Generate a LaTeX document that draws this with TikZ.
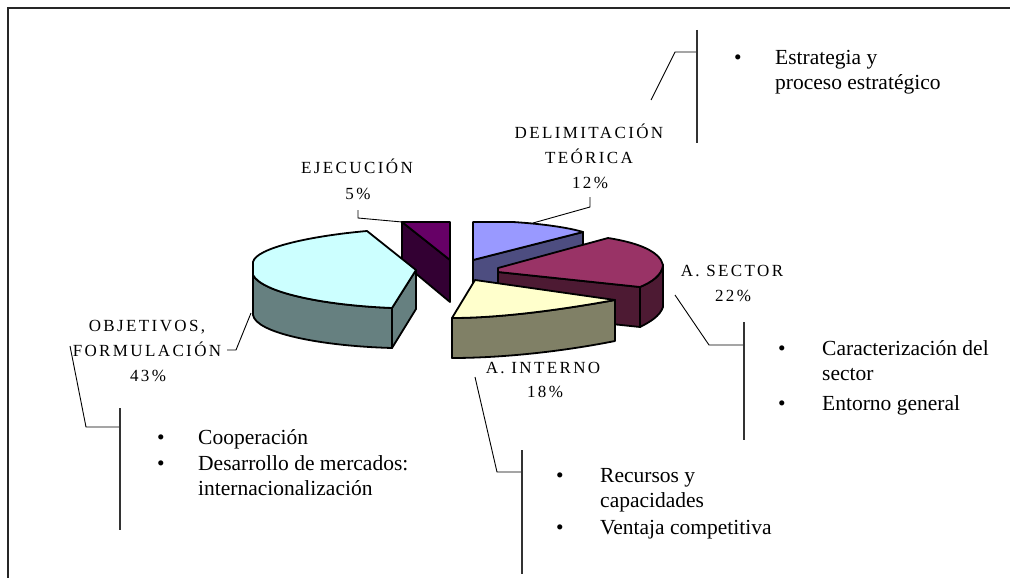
\documentclass[tikz,border=0pt]{standalone}
\usepackage{fontspec}
\setmainfont{Liberation Serif}
\newfontfamily\lblfont[LetterSpace=14]{Liberation Serif}
\definecolor{cyanTop}{HTML}{CCFFFF}
\definecolor{slate}{HTML}{668080}
\definecolor{ejeTop}{HTML}{660066}
\definecolor{ejeSide}{HTML}{330033}
\definecolor{delTop}{HTML}{9999FF}
\definecolor{delSide}{HTML}{4D4D80}
\definecolor{secTop}{HTML}{993366}
\definecolor{secSide}{HTML}{4D1A33}
\definecolor{intTop}{HTML}{FFFFCC}
\definecolor{intSide}{HTML}{808066}
\begin{document}
\begin{tikzpicture}[x=1pt,y=-1pt,
  lbl/.style={font=\lblfont\fontsize{17}{20}\selectfont, inner sep=0pt, anchor=base},
  txt/.style={font=\fontsize{21.5}{25}\selectfont, inner sep=0pt, anchor=base west},
  bul/.style={font=\fontsize{21.5}{25}\selectfont, inner sep=0pt, anchor=base},
  face/.style={draw=black, line width=1.8pt, line join=round},
  leader/.style={draw=black, line width=0.9pt},
  brk/.style={draw=black!80, line width=1.3pt}]
\useasboundingbox (0,0) rectangle (1010,578);
% frame
\draw[line width=1.6pt, black!85] (8,578) -- (8,8) -- (1010,8);

% --- EJECUCION slice
\draw[face, fill=ejeSide] (402,222) -- (450,260) -- (450,302) -- (402,262) -- cycle;
\draw[face, fill=ejeTop] (402,222) -- (450,222) -- (450,260) -- cycle;

% --- OBJETIVOS slice
\draw[face, fill=slate] (253,275) -- (253,315) .. controls (256,333) and (320,346) .. (392,348) -- (392,308) .. controls (320,305) and (262,292) .. (253,275) -- cycle;
\draw[face, fill=slate] (392,308) -- (416,270) -- (416,309) -- (392,348) -- cycle;
\draw[face, fill=cyanTop] (416,270) -- (367,231) .. controls (310,236) and (256,248) .. (253,262) -- (253,275) .. controls (262,292) and (320,305) .. (392,308) -- cycle;

% --- DELIMITACION slice
\draw[face, fill=delSide] (473,260) -- (583,232) -- (583,272) -- (473,300) -- cycle;
\draw[face, fill=delTop] (473,260) -- (473,222) -- (513,222) .. controls (545,224) and (570,228) .. (583,232) -- cycle;

% --- SECTOR slice
\draw[face, fill=secSide] (498,272) -- (640,287) -- (640,327) -- (498,312) -- cycle;
\draw[face, fill=secSide] (640,287) .. controls (652,282) and (662,275) .. (663,265) -- (663,307) .. controls (660,316) and (650,322) .. (640,327) -- cycle;
\draw[face, fill=secTop] (498,268) -- (608,238) .. controls (640,243) and (660,252) .. (663,265) .. controls (662,275) and (652,282) .. (640,287) -- (498,272) -- cycle;

% --- INTERNO slice
\draw[face, fill=intSide] (452,318) .. controls (500,318) and (560,310) .. (615,300) -- (615,341) .. controls (560,352) and (500,358) .. (452,358) -- cycle;
\draw[face, fill=intTop] (475,280) -- (615,300) .. controls (560,310) and (500,318) .. (452,318) -- cycle;

% --- labels
\node[lbl] (del1) at (589,139) {DELIMITACIÓN};
\node[lbl] (del2) at (589,163) {TEÓRICA};
\node[lbl] (del3) at (590,188) {12\%};
\node[lbl] (eje1) at (357,173) {EJECUCIÓN};
\node[lbl] (eje2) at (358,199) {5\%};
\node[lbl] (sec1) at (732,276) {A. SECTOR};
\node[lbl] (sec2) at (733,301) {22\%};
\node[lbl] (int1) at (543,373) {A. INTERNO};
\node[lbl] (int2) at (545,397) {18\%};
\node[lbl] (obj1) at (147,331) {OBJETIVOS,};
\node[lbl] (obj2) at (147,356) {FORMULACIÓN};
\node[lbl] (obj3) at (148,381) {43\%};

% --- leader points
\coordinate (dA) at (590,197); \coordinate (dB) at (590,207); \coordinate (dC) at (533,223);
\coordinate (eA) at (358,210); \coordinate (eB) at (358,218); \coordinate (eC) at (402,222);
\coordinate (oA) at (227,350); \coordinate (oB) at (236,350); \coordinate (oC) at (251,313);
% brackets
\coordinate (b1s) at (651,100); \coordinate (b1k) at (675,52); \coordinate (b1j) at (697,52);
\coordinate (b1t) at (697,30); \coordinate (b1b) at (697,143);
\coordinate (b2s) at (675,295); \coordinate (b2k) at (709,345); \coordinate (b2j) at (744,345);
\coordinate (b2t) at (744,322); \coordinate (b2b) at (744,440);
\coordinate (b3s) at (475,377); \coordinate (b3k) at (497,472); \coordinate (b3j) at (522,472);
\coordinate (b3t) at (522,450); \coordinate (b3b) at (522,574);
\coordinate (b4s) at (70,346); \coordinate (b4k) at (86,427); \coordinate (b4j) at (120,427);
\coordinate (b4t) at (120,408); \coordinate (b4b) at (120,530);

\draw[leader] (dA) -- (dB) -- (dC);
\draw[leader] (eA) -- (eB) -- (eC);
\draw[leader] (oA) -- (oB) -- (oC);
\draw[leader] (b1s) -- (b1k) -- (b1j);
\draw[brk] (b1t) -- (b1b);
\draw[leader] (b2s) -- (b2k) -- (b2j);
\draw[brk] (b2t) -- (b2b);
\draw[leader] (b3s) -- (b3k) -- (b3j);
\draw[brk] (b3t) -- (b3b);
\draw[leader] (b4s) -- (b4k) -- (b4j);
\draw[brk] (b4t) -- (b4b);

% --- bullet texts
\node[bul] (estb) at (738,65) {\textbullet};
\node[txt] (est1) at (775,65) {Estrategia y};
\node[txt] (est2) at (775,90) {proceso estratégico};

\node[bul] (carb) at (782,355) {\textbullet};
\node[txt] (car1) at (822,355) {Caracterización del};
\node[txt] (car2) at (822,380) {sector};
\node[bul] (entb) at (782,410) {\textbullet};
\node[txt] (ent1) at (822,410) {Entorno general};

\node[bul] (recb) at (560,482) {\textbullet};
\node[txt] (rec1) at (600,482) {Recursos y};
\node[txt] (rec2) at (600,507) {capacidades};
\node[bul] (venb) at (560,534) {\textbullet};
\node[txt] (ven1) at (600,534) {Ventaja competitiva};

\node[bul] (coob) at (161,444) {\textbullet};
\node[txt] (coo1) at (198,444) {Cooperación};
\node[bul] (desb) at (161,470) {\textbullet};
\node[txt] (des1) at (198,470) {Desarrollo de mercados:};
\node[txt] (des2) at (198,495) {internacionalización};
\end{tikzpicture}
\end{document}
